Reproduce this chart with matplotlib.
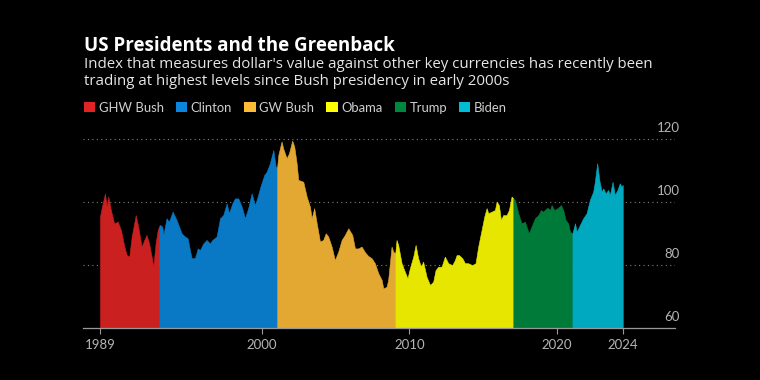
import numpy as np
import matplotlib
matplotlib.use("Agg")
import matplotlib.pyplot as plt
from matplotlib.patches import Patch
from matplotlib.colors import to_rgb
from matplotlib.transforms import ScaledTranslation

plt.rcParams['font.family'] = ['Lato', 'DejaVu Sans']

# dollar index (decimal years)
dates = [1989.05, 1989.16, 1989.39, 1989.50, 1989.61, 1989.79, 1990.01, 1990.25, 1990.47, 1990.70,
         1990.86, 1991.03, 1991.20, 1991.47, 1991.64, 1991.87, 1992.05, 1992.20, 1992.37, 1992.55,
         1992.66, 1992.82, 1992.96, 1993.05, 1993.11, 1993.27, 1993.34, 1993.56, 1993.72, 1993.97,
         1994.24, 1994.58, 1994.80, 1994.99, 1995.14, 1995.26, 1995.48, 1995.67, 1995.82, 1996.05,
         1996.27, 1996.50, 1996.66, 1996.95, 1997.18, 1997.40, 1997.63, 1997.79, 1998.01, 1998.19,
         1998.42, 1998.65, 1998.87, 1999.09, 1999.32, 1999.55, 1999.73, 1999.95, 2000.18, 2000.34,
         2000.56, 2000.79, 2000.95, 2001.05, 2001.13, 2001.35, 2001.46, 2001.69, 2001.85, 2002.07,
         2002.21, 2002.37, 2002.48, 2002.82, 2003.05, 2003.27, 2003.39, 2003.56, 2003.73, 2003.95,
         2004.17, 2004.34, 2004.51, 2004.74, 2004.96, 2005.19, 2005.42, 2005.64, 2005.87, 2006.14,
         2006.32, 2006.54, 2006.77, 2007.00, 2007.22, 2007.45, 2007.67, 2007.90, 2008.13, 2008.24,
         2008.46, 2008.57, 2008.80, 2008.91, 2009.05, 2009.14, 2009.25, 2009.48, 2009.70, 2009.88,
         2010.04, 2010.27, 2010.43, 2010.60, 2010.79, 2010.94, 2011.17, 2011.40, 2011.62, 2011.78,
         2011.96, 2012.19, 2012.41, 2012.64, 2012.91, 2013.09, 2013.21, 2013.36, 2013.59, 2013.77,
         2013.99, 2014.26, 2014.49, 2014.67, 2014.90, 2015.08, 2015.24, 2015.35, 2015.58, 2015.80,
         2015.92, 2016.07, 2016.21, 2016.36, 2016.59, 2016.75, 2016.93, 2017.05, 2017.16, 2017.38,
         2017.61, 2017.83, 2018.10, 2018.33, 2018.51, 2018.74, 2018.92, 2019.07, 2019.30, 2019.41,
         2019.53, 2019.64, 2019.82, 2020.05, 2020.27, 2020.43, 2020.59, 2020.77, 2020.89, 2021.05,
         2021.11, 2021.23, 2021.34, 2021.56, 2021.78, 2022.01, 2022.23, 2022.46, 2022.57, 2022.73,
         2022.87, 2023.03, 2023.14, 2023.30, 2023.47, 2023.59, 2023.77, 2023.92, 2024.10, 2024.26,
         2024.37, 2024.46]
index = [95.3, 98.0, 102.7, 98.5, 101.7, 97.4, 93.2, 93.7, 91.1, 85.8,
         83.1, 82.6, 89.0, 95.8, 92.1, 85.8, 87.9, 89.5, 86.9, 82.6,
         79.4, 86.9, 91.1, 92.1, 92.7, 92.1, 89.5, 94.8, 93.7, 96.9,
         94.2, 90.0, 89.0, 88.4, 84.7, 82.1, 82.1, 85.2, 84.7, 86.8,
         87.9, 86.8, 87.9, 89.0, 94.8, 95.8, 99.5, 96.4, 99.5, 101.1,
         101.1, 98.5, 94.8, 98.0, 102.7, 99.0, 101.7, 105.4, 108.6, 109.6,
         112.3, 116.5, 111.2, 111.0, 114.9, 119.2, 117.0, 113.9, 115.4, 119.5,
         117.6, 112.3, 107.0, 106.4, 101.7, 98.5, 94.8, 98.0, 93.2, 87.4,
         87.9, 90.0, 89.0, 85.8, 81.5, 84.2, 87.9, 89.5, 91.6, 89.5,
         85.2, 85.2, 85.8, 84.0, 82.8, 82.1, 80.5, 77.3, 75.2, 72.5,
         73.0, 75.2, 85.8, 84.2, 83.6, 87.9, 86.3, 80.5, 77.8, 75.7,
         78.9, 82.6, 86.3, 82.1, 79.4, 81.0, 76.2, 73.6, 74.6, 78.3,
         79.4, 79.4, 82.6, 80.5, 79.9, 81.5, 83.1, 83.1, 82.1, 80.5,
         80.5, 79.9, 80.5, 85.8, 91.1, 95.3, 98.0, 96.4, 96.9, 97.4,
         100.1, 99.0, 94.2, 95.8, 95.8, 97.4, 101.7, 101.1, 100.6, 96.4,
         93.2, 93.7, 90.0, 92.7, 94.8, 95.8, 97.4, 96.9, 98.0, 98.0,
         97.4, 99.0, 97.4, 98.0, 99.0, 97.4, 94.2, 93.2, 90.5, 90.0,
         91.1, 93.2, 90.5, 92.7, 94.8, 96.4, 100.6, 103.3, 106.4, 112.3,
         107.0, 103.3, 104.3, 102.7, 103.8, 102.2, 106.4, 102.2, 103.8, 105.9,
         104.8, 105.4]

presidents = ['GHW Bush', 'Clinton', 'GW Bush', 'Obama', 'Trump', 'Biden']
term_start = [1989.05, 1993.05, 2001.05, 2009.05, 2017.05, 2021.05]
colors = ['#e02424', '#0a86dc', '#fbbb36', '#ffff00', '#00873f', '#00bcd4']

x_ticks = [dates[0], 2000, 2010, 2020, dates[-1]]
x_labels = ['1989', '2000', '2010', '2020', '2024']
y_ticks = [60, 80, 100, 120]

BG = 'black'
GREY = '#b4b4b4'

dates = np.array(dates)
index = np.array(index)

fig = plt.figure(figsize=(7.6, 3.8), dpi=100, facecolor=BG)
ax = fig.add_axes([83 / 760, 52.3 / 380, 592 / 760, 190.3 / 380], facecolor=BG)

ends = term_start[1:] + [dates[-1]]
for name, s, e, c in zip(presidents, term_start, ends, colors):
    m = (dates >= s) & (dates <= e)
    fc = tuple(0.9 * v for v in to_rgb(c))  # fills a touch darker than the key
    ax.fill_between(dates[m], index[m], 60, color=fc, linewidth=0.4, zorder=2)

ax.set_xlim(1987.9, 2028.0)
ax.set_ylim(60, 120.5)

ax.set_yticks(y_ticks)
ax.grid(axis='y', linestyle=(0, (1, 3)), color='#808080', linewidth=0.8, zorder=0)
ax.tick_params(axis='y', left=False, right=False, labelleft=False, labelright=True,
               pad=0, labelsize=9.5, labelcolor=GREY)
up = ScaledTranslation(0, 5 / 100, fig.dpi_scale_trans)
for t in ax.yaxis.get_major_ticks():
    t.label2.set_horizontalalignment('right')
    t.label2.set_verticalalignment('bottom')
    t.label2.set_transform(t.label2.get_transform() + up)

ax.set_xticks(x_ticks)
ax.set_xticklabels(x_labels)
ax.tick_params(axis='x', length=4, width=0.8, color='#999999', pad=4,
               labelsize=9.5, labelcolor=GREY)

for side in ['top', 'left', 'right']:
    ax.spines[side].set_visible(False)
ax.spines['bottom'].set_color('#999999')
ax.spines['bottom'].set_linewidth(0.9)
ax.spines['bottom'].set_zorder(3)

x0 = 84 / 760
fig.text(x0, 1 - 51 / 380, 'US Presidents and the Greenback', color='white',
         fontsize=13.5, fontweight='bold', family=['Open Sans', 'DejaVu Sans'],
         va='baseline', ha='left')
fig.text(x0, 1 - 68 / 380,
         "Index that measures dollar's value against other key currencies has recently been",
         color='#e6e6e6', fontsize=10.85, family=['Open Sans', 'DejaVu Sans'],
         va='baseline', ha='left')
fig.text(x0, 1 - 85 / 380, 'trading at highest levels since Bush presidency in early 2000s',
         color='#e6e6e6', fontsize=10.85, family=['Open Sans', 'DejaVu Sans'],
         va='baseline', ha='left')

handles = [Patch(facecolor=c, edgecolor='none') for c in colors]
fig.legend(handles, presidents, loc='center left', bbox_to_anchor=(84 / 760, 1 - 107.7 / 380),
           ncol=6, frameon=False, fontsize=9.4, labelcolor='#d0d0d0',
           handlelength=0.85, handleheight=0.85, handletextpad=0.27,
           columnspacing=0.95, borderpad=0, borderaxespad=0)

fig.savefig('out.png', dpi=100, facecolor=BG)
